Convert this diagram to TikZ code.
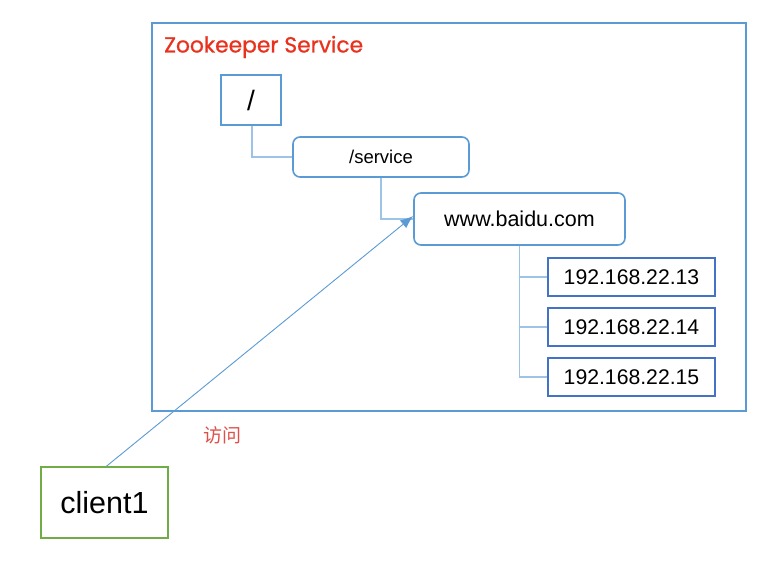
\documentclass[tikz,border=0pt]{standalone}
\usepackage{fontspec}
\setmainfont{Liberation Sans}
\newfontfamily\titlefont{Poppins}[FakeBold=0.8]
\newfontfamily\cjk{Noto Sans CJK SC}
\usetikzlibrary{arrows.meta}
\definecolor{lblue}{HTML}{5B9BD5}
\definecolor{dblue}{HTML}{4472C4}
\definecolor{cline}{HTML}{9DC3E6}
\definecolor{cgreen}{HTML}{70AD47}
\definecolor{tred}{HTML}{E8321E}
\definecolor{cjkred}{HTML}{E0504A}
\tikzset{
  sqbox/.style={draw=lblue, line width=1.6pt, fill=white, inner sep=0pt},
  rbox/.style={draw=lblue, line width=1.6pt, rounded corners=7pt, fill=white, inner sep=0pt, font=\fontsize{18.5}{20}\selectfont},
  ipbox/.style={draw=dblue, line width=1.6pt, fill=white, inner sep=0pt, minimum width=167pt, minimum height=38pt, font=\fontsize{21.2}{23}\selectfont},
  conn/.style={draw=cline, line width=1.2pt},
  arr/.style={draw=lblue, line width=0.9pt, -{Latex[length=13pt,width=10pt]}}
}
\begin{document}
\begin{tikzpicture}[x=1pt,y=-1pt]
\useasboundingbox[fill=white] (0,0) rectangle (773,562);
\node[draw=lblue, line width=1.4pt, minimum width=594pt, minimum height=388pt, inner sep=0pt] (outer) at (449,217) {};
\node[anchor=west, text=tred, font=\titlefont\fontsize{21.8}{23}\selectfont, inner sep=0pt] (title) at (164,47) {Zookeeper Service};
\node[sqbox, minimum width=60pt, minimum height=50pt, font=\fontsize{28}{30}\selectfont] (root) at (251,100) {/};
\node[rbox, minimum width=176pt, minimum height=40pt] (service) at (381,157) {/service};
\node[rbox, minimum width=211pt, minimum height=52pt, font=\fontsize{21.5}{23}\selectfont] (baidu) at (519.5,219) {www.baidu.com};
\node[ipbox] (ip1) at (631.5,277) {192.168.22.13};
\node[ipbox] (ip2) at (631.5,327) {192.168.22.14};
\node[ipbox] (ip3) at (631.5,377) {192.168.22.15};
\node[draw=cgreen, line width=1.6pt, minimum width=127pt, minimum height=71pt, inner sep=0pt, font=\fontsize{30.5}{32}\selectfont] (client) at (104.5,502.5) {client1};
\node[text=cjkred, font=\cjk\fontsize{19}{21}\selectfont, inner sep=0pt] (visit) at (222,435) {访问};
\coordinate (rootdown) at ([xshift=1pt]root.south);
\draw[conn] (rootdown) |- (service.west);
\draw[conn] (service.south) |- (baidu.west);
\draw[conn] (baidu.south) |- (ip1.west);
\draw[conn] (baidu.south) |- (ip2.west);
\draw[conn] (baidu.south) |- (ip3.west);
\draw[arr] ([xshift=2pt]client.north) -- ([yshift=3pt]baidu.west);
\end{tikzpicture}
\end{document}
